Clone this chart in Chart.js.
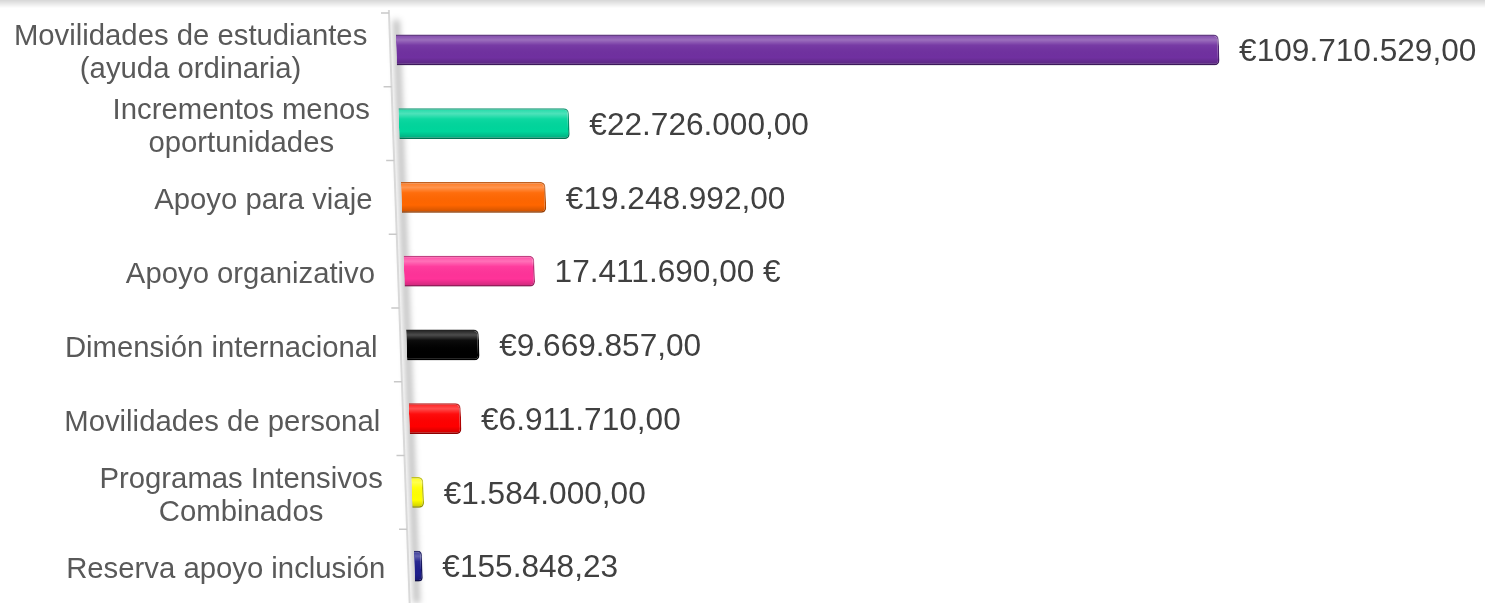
<!DOCTYPE html>
<html>
<head>
<meta charset="utf-8">
<script src="https://cdn.jsdelivr.net/npm/chart.js@4"></script>
<style>
  html, body { margin:0; padding:0; background:#fff; }
  #wrap { width:1485px; height:603px; position:relative; }
</style>
</head>
<body>
<div id="wrap"><canvas id="c" width="1485" height="603"></canvas></div>
<script>
// ---------- data ----------
const categories = [
  ['Movilidades de estudiantes', '(ayuda ordinaria)'],
  ['Incrementos menos', 'oportunidades'],
  ['Apoyo para viaje'],
  ['Apoyo organizativo'],
  ['Dimensión internacional'],
  ['Movilidades de personal'],
  ['Programas Intensivos', 'Combinados'],
  ['Reserva apoyo inclusión']
];
const amounts = [109710529, 22726000, 19248992, 17411690, 9669857, 6911710, 1584000, 155848.23];
const euroPos = ['pre','pre','pre','post','pre','pre','pre','pre']; // una etiqueta lleva el € detrás
const barColors  = ['#7030A0','#00D69C','#FF6600','#FF3399','#000000','#FF0000','#FFFF00','#1F1F8C'];
const edgeColors = ['#4B1F70','#008F68','#B84A00','#B82470','#000000','#B00000','#B8B800','#12125A'];

// ---------- helpers ----------
const SKEW = 0.035;       // inclinación del eje (perspectiva)
const FONT = '"Liberation Sans", Arial, sans-serif';

function fmtEuro(v, pos) {
  const [ent, dec] = v.toFixed(2).split('.');
  const s = ent.replace(/\B(?=(\d{3})+(?!\d))/g, '.') + ',' + dec;
  return pos === 'post' ? s + ' €' : '€' + s;
}

// ---------- plugin: eje inclinado, etiquetas, sombras, efecto 3D ----------
const decor = {
  id: 'decor',
  beforeDraw(chart) {
    const ctx = chart.ctx;
    // sombra superior del marco
    const g = ctx.createLinearGradient(0, 0, 0, 8);
    g.addColorStop(0, 'rgba(0,0,0,0.16)');
    g.addColorStop(1, 'rgba(0,0,0,0)');
    ctx.save();
    ctx.fillStyle = g;
    ctx.fillRect(0, 0, chart.width, 8);
    ctx.restore();
  },
  beforeDatasetsDraw(chart) {
    const ctx = chart.ctx, a = chart.chartArea;
    const axisX = y => a.left - 6 + SKEW * (y - a.top);
    const y0 = a.top - 3, y1 = chart.height;
    ctx.save();
    // sombra borrosa junto al eje
    ctx.filter = 'blur(3px)';
    ctx.strokeStyle = 'rgba(0,0,0,0.28)';
    ctx.lineWidth = 6;
    ctx.beginPath();
    ctx.moveTo(axisX(y0 + 10) + 7, y0 + 10);
    ctx.lineTo(axisX(y1) + 7, y1);
    ctx.stroke();
    ctx.filter = 'none';
    // línea del eje
    ctx.strokeStyle = '#D9D9D9';
    ctx.lineWidth = 2;
    ctx.beginPath();
    ctx.moveTo(axisX(y0), y0);
    ctx.lineTo(axisX(y1), y1);
    ctx.stroke();
    // marcas entre categorías
    ctx.strokeStyle = '#C8C8C8';
    ctx.lineWidth = 1.5;
    const ys = chart.scales.y;
    const band = ys.getPixelForValue(1) - ys.getPixelForValue(0);
    for (let i = 0; i < categories.length; i++) {
      const y = ys.getPixelForValue(i) - band / 2;
      ctx.beginPath();
      ctx.moveTo(axisX(y) - 8, y);
      ctx.lineTo(axisX(y), y);
      ctx.stroke();
    }
    ctx.restore();
    // inclinación de las barras
    ctx.save();
    ctx.transform(1, 0, SKEW, 1, -SKEW * a.top, 0);
  },
  afterDatasetsDraw(chart) {
    const ctx = chart.ctx;
    const meta = chart.getDatasetMeta(0);
    // brillo 3D sobre cada barra (todavía con la inclinación)
    meta.data.forEach(bar => {
      const { x, y, base, height } = bar.getProps(['x','y','base','height'], true);
      const top = y - height / 2;
      const g = ctx.createLinearGradient(0, top, 0, top + height);
      g.addColorStop(0, 'rgba(255,255,255,0.10)');
      g.addColorStop(0.18, 'rgba(255,255,255,0.30)');
      g.addColorStop(0.35, 'rgba(255,255,255,0.05)');
      g.addColorStop(0.75, 'rgba(0,0,0,0.0)');
      g.addColorStop(1, 'rgba(0,0,0,0.22)');
      ctx.fillStyle = g;
      ctx.beginPath();
      ctx.roundRect(base, top, Math.max(x - base, 2), height, [0, 5, 5, 0]);
      ctx.fill();
    });
    ctx.restore();

    const a = chart.chartArea;
    const axisX = y => a.left - 6 + SKEW * (y - a.top);
    ctx.save();
    // etiquetas de categoría
    ctx.font = '29.3px ' + FONT;
    ctx.fillStyle = '#595959';
    ctx.textAlign = 'center';
    ctx.textBaseline = 'alphabetic';
    const lh = 33;
    categories.forEach((lines, i) => {
      const yc = chart.scales.y.getPixelForValue(i);
      const right = axisX(yc) - 23;
      const widest = Math.max(...lines.map(l => ctx.measureText(l).width));
      lines.forEach((l, j) => {
        const ly = yc + 12 + (j - (lines.length - 1) / 2) * lh;
        ctx.fillText(l, right - widest / 2, ly);
      });
    });
    // valores
    ctx.font = '31.6px ' + FONT;
    ctx.fillStyle = '#404040';
    ctx.textAlign = 'left';
    meta.data.forEach((bar, i) => {
      const { x, y } = bar.getProps(['x','y'], true);
      const ex = x + SKEW * (y - a.top);
      ctx.fillText(fmtEuro(amounts[i], euroPos[i]), ex + 20, y + 11.3);
    });
    ctx.restore();
  }
};

// ---------- chart ----------
new Chart(document.getElementById('c'), {
  type: 'bar',
  data: {
    labels: categories.map(c => c.join(' ')),
    datasets: [{
      data: amounts,
      backgroundColor: barColors,
      borderColor: edgeColors,
      borderWidth: 1.5,
      borderSkipped: 'start',
      borderRadius: { topRight: 5, bottomRight: 5, topLeft: 0, bottomLeft: 0 },
      barPercentage: 0.42,
      categoryPercentage: 1,
      minBarLength: 8
    }]
  },
  options: {
    indexAxis: 'y',
    responsive: false,
    animation: false,
    layout: { padding: { left: 395, right: 40, top: 13, bottom: -2 } },
    plugins: { legend: { display: false }, tooltip: { enabled: false } },
    scales: {
      x: { display: false, min: 0, max: 140000000 },
      y: { display: false }
    }
  },
  plugins: [decor]
});
</script>
</body>
</html>
